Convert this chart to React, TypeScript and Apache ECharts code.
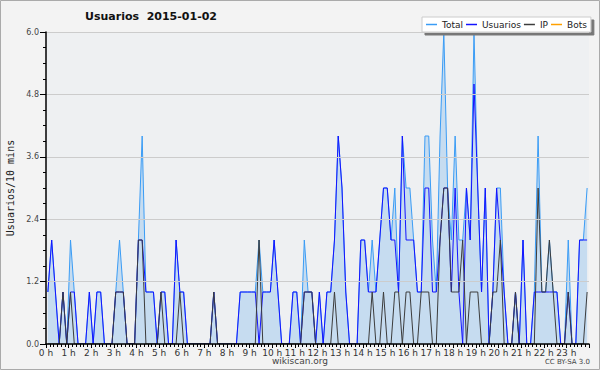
import React, { useEffect, useRef } from "react";
import * as echarts from "echarts";

// 144 ten-minute slots (0:00 .. 23:50)
const total = [
  1, 2, 1, 0, 1, 0, 2, 1, 0, 0, 0, 1,
  0, 1, 1, 0, 0, 0, 1, 2, 1, 0, 0, 0,
  2, 4, 1, 1, 1, 0, 1, 1, 0, 0, 2, 1,
  1, 0, 0, 0, 0, 0, 0, 0, 1, 0, 0, 0,
  0, 0, 0, 1, 1, 1, 1, 1, 2, 1, 1, 1,
  2, 1, 0, 0, 0, 1, 1, 0, 2, 1, 1, 0,
  1, 0, 1, 1, 2, 4, 3, 1, 0, 0, 0, 2,
  2, 1, 2, 1, 2, 3, 3, 2, 3, 1, 4, 3,
  3, 2, 1, 1, 4, 4, 2, 1, 4, 6, 3, 2,
  4, 2, 2, 3, 2, 6, 3, 1, 3, 0, 1, 3,
  3, 1, 0, 0, 1, 0, 2, 0, 0, 1, 4, 1,
  1, 2, 1, 1, 0, 0, 2, 0, 0, 2, 2, 3,
];
const usuarios = [
  1, 2, 1, 0, 1, 0, 1, 1, 0, 0, 0, 1,
  0, 1, 1, 0, 0, 0, 1, 1, 1, 0, 0, 0,
  2, 2, 1, 1, 1, 0, 1, 1, 0, 0, 2, 1,
  1, 0, 0, 0, 0, 0, 0, 0, 1, 0, 0, 0,
  0, 0, 0, 1, 1, 1, 1, 1, 0, 1, 1, 1,
  2, 1, 0, 0, 0, 1, 1, 0, 1, 1, 1, 0,
  1, 0, 1, 1, 2, 4, 3, 1, 0, 0, 0, 2,
  2, 1, 1, 1, 2, 3, 3, 2, 2, 1, 4, 2,
  2, 2, 1, 1, 3, 3, 1, 1, 2, 3, 3, 1,
  3, 1, 0, 3, 2, 5, 3, 1, 3, 0, 1, 3,
  2, 1, 0, 0, 1, 0, 2, 0, 0, 1, 1, 1,
  1, 1, 1, 1, 0, 0, 1, 0, 0, 2, 2, 2,
];
const ip = [
  0, 0, 0, 0, 1, 0, 1, 0, 0, 0, 0, 0,
  0, 0, 0, 0, 0, 0, 1, 1, 1, 0, 0, 0,
  2, 2, 0, 0, 0, 0, 1, 0, 0, 0, 0, 1,
  0, 0, 0, 0, 0, 0, 0, 0, 1, 0, 0, 0,
  0, 0, 0, 0, 0, 0, 0, 0, 2, 0, 0, 0,
  0, 0, 0, 0, 0, 0, 0, 0, 1, 1, 1, 0,
  0, 0, 0, 0, 1, 0, 0, 0, 0, 0, 0, 0,
  0, 0, 1, 0, 0, 1, 0, 0, 1, 1, 0, 1,
  1, 0, 0, 1, 1, 1, 0, 0, 2, 3, 3, 1,
  1, 1, 2, 0, 1, 1, 1, 0, 0, 0, 1, 1,
  2, 0, 0, 0, 1, 0, 0, 0, 0, 0, 3, 1,
  1, 2, 1, 0, 0, 0, 1, 0, 0, 0, 0, 1,
];
const bots: number[] = [];

const yTicks = [0, 1.2, 2.4, 3.6, 4.8, 6.0];
const hourLabels = Array.from({ length: 24 }, (_, h) => `${h} h`);

const seriesNames = ["Total", "Usuarios", "IP", "Bots"];
const seriesColors = ["#3a9cf5", "#1414ff", "#3c3c3c", "#ffa000"];

export default function App() {
  const ref = useRef<HTMLDivElement>(null);
  useEffect(() => {
    document.body.style.margin = "0";
    const chart = echarts.init(ref.current!, null, { renderer: "svg" });
    const pts = (arr: number[]) => arr.map((v, i) => [i + 0.5, v]);
    const datasets = [total, usuarios, ip, bots];
    chart.setOption({
      animation: false,
      backgroundColor: "#f3f3f3",
      textStyle: { fontFamily: "DejaVu Sans" },
      grid: {
        left: 46,
        right: 11,
        top: 32,
        bottom: 26,
        show: true,
        backgroundColor: "#eef0f2",
        borderWidth: 0,
      },
      legend: {
        left: 422,
        top: 17,
        padding: [3, 4, 3, 4],
        itemGap: 3,
        itemWidth: 11,
        itemHeight: 1.5,
        icon: "rect",
        backgroundColor: "#ffffff",
        borderColor: "#cccccc",
        borderWidth: 1,
        shadowColor: "#777777",
        shadowBlur: 0,
        shadowOffsetX: 3,
        shadowOffsetY: 3,
        textStyle: { fontSize: 9, color: "#222", fontFamily: "DejaVu Sans" },
        data: seriesNames,
      },
      xAxis: {
        type: "value",
        min: 0,
        max: 144,
        interval: 6,
        z: 10,
        axisLine: { onZero: false, lineStyle: { color: "#000", width: 1.5 } },
        axisTick: { length: 4, lineStyle: { color: "#000" } },
        minorTick: { show: true, splitNumber: 6, length: 3, lineStyle: { color: "#000" } },
        axisLabel: {
          fontSize: 9,
          color: "#333",
          margin: 4,
          showMaxLabel: false,
          formatter: (v: number) => hourLabels[Math.round(v / 6)] ?? "",
        },
        splitLine: { show: false },
      },
      yAxis: {
        type: "value",
        min: yTicks[0],
        max: yTicks[yTicks.length - 1],
        interval: 1.2,
        z: 10,
        axisLine: { show: true, lineStyle: { color: "#000", width: 1.5 } },
        axisTick: { show: true, length: 6, lineStyle: { color: "#000" } },
        minorTick: { show: true, splitNumber: 4, length: 3, lineStyle: { color: "#000" } },
        axisLabel: {
          fontSize: 8,
          color: "#444",
          margin: 7,
          formatter: (v: number) => v.toFixed(1),
        },
        splitLine: { lineStyle: { color: "#cccccc", width: 1 } },
      },
      series: seriesNames.map((name, k) => ({
        name,
        type: "line",
        data: pts(datasets[k]),
        symbol: "none",
        color: seriesColors[k],
        lineStyle: { width: 1, color: seriesColors[k] },
        areaStyle: k === 0 ? { color: "#c6dcf0", opacity: 1 } : undefined,
        z: 2 + k,
      })),
      graphic: [
        {
          type: "rect",
          shape: { x: 0.5, y: 0.5, width: 599, height: 369 },
          style: { fill: "none", stroke: "#aaaaaa", lineWidth: 1 },
          silent: true,
        },
        {
          type: "text",
          x: 151,
          y: 16,
          style: {
            text: "Usuarios  2015-01-02",
            textAlign: "center",
            textVerticalAlign: "middle",
            font: "bold 11px DejaVu Sans",
            fill: "#111",
          },
        },
        {
          type: "text",
          x: 10,
          y: 188,
          rotation: Math.PI / 2,
          style: {
            text: "Usuarios/10 mins",
            textAlign: "center",
            textVerticalAlign: "middle",
            font: "10px DejaVu Sans Mono",
            fill: "#222",
          },
        },
        {
          type: "text",
          x: 300,
          y: 361,
          style: {
            text: "wikiscan.org",
            textAlign: "center",
            textVerticalAlign: "middle",
            font: "9px DejaVu Sans",
            fill: "#444",
          },
        },
        {
          type: "text",
          x: 590,
          y: 362,
          style: {
            text: "CC BY-SA 3.0",
            textAlign: "right",
            textVerticalAlign: "middle",
            font: "7px DejaVu Sans",
            fill: "#444",
          },
        },
      ],
    });
    return () => chart.dispose();
  }, []);
  return <div ref={ref} style={{ width: 600, height: 370 }} />;
}
